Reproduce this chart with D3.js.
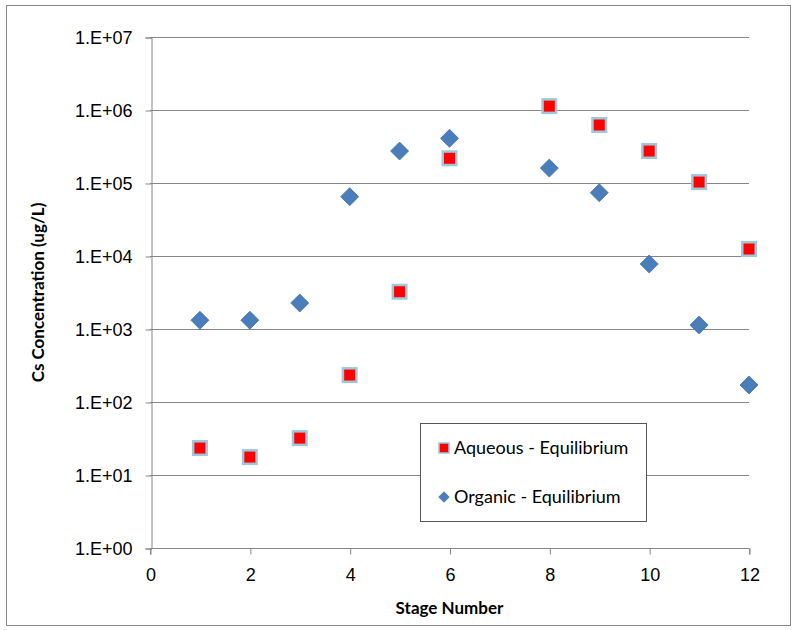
<!DOCTYPE html>
<html>
<head>
<meta charset="utf-8">
<script src="https://cdn.jsdelivr.net/npm/d3@7"></script>
<style>
  body { margin: 0; background: #fff; }
  svg { font-family: Lato, "Open Sans", sans-serif; }
</style>
</head>
<body>
<div id="chart"></div>
<script>
const stagesAqueous = [1, 2, 3, 4, 5, 6, 8, 9, 10, 11, 12];
const aqueous = [23.4, 17.6, 32, 234, 3240, 218000, 1130000, 623000, 274000, 103000, 12470];
const stagesOrganic = [1, 2, 3, 4, 5, 6, 8, 9, 10, 11, 12];
const organic = [1320, 1320, 2270, 64900, 274000, 409000, 160000, 73600, 7770, 1135, 171];
const xTicks = [0, 2, 4, 6, 8, 10, 12];
const yTicks = [1, 10, 100, 1e3, 1e4, 1e5, 1e6, 1e7];
const seriesNames = ["Aqueous - Equilibrium", "Organic - Equilibrium"];

const size = { width: 798, height: 630 };
const plot = { left: 150, right: 749, top: 37, bottom: 548 };

const svg = d3.select("#chart").append("svg")
  .attr("width", size.width)
  .attr("height", size.height);

// outer frame
svg.append("rect")
  .attr("x", 6.5).attr("y", 5.5)
  .attr("width", 784).attr("height", 620)
  .attr("fill", "#fff")
  .attr("stroke", "#868686");

const x = d3.scaleLinear().domain([0, 12]).range([plot.left, plot.right]);
const y = d3.scaleLog().domain([1, 1e7]).range([plot.bottom, plot.top]);

// horizontal gridlines
svg.append("g").selectAll("line")
  .data(yTicks.slice(1))
  .join("line")
  .attr("x1", plot.left).attr("x2", plot.right)
  .attr("y1", d => Math.round(y(d)) + 0.5)
  .attr("y2", d => Math.round(y(d)) + 0.5)
  .attr("stroke", "#868686");

const fmt = d => "1.E+" + String(Math.round(Math.log10(d))).padStart(2, "0");

const yAxis = svg.append("g")
  .attr("transform", `translate(${plot.left + 1.5},0.5)`)
  .call(d3.axisLeft(y).tickValues(yTicks).tickFormat(fmt).tickSize(6).tickPadding(13));

const xAxis = svg.append("g")
  .attr("transform", `translate(0.5,${plot.bottom + 0.5})`)
  .call(d3.axisBottom(x).tickValues(xTicks).tickFormat(d3.format("d")).tickSize(6).tickPadding(14));

[yAxis, xAxis].forEach(a => {
  a.selectAll("path, line").attr("stroke", "#868686");
  a.selectAll("text").attr("fill", "#000").style("font-size", "18px");
});
xAxis.select("path").attr("d", `M${plot.left},6V0H${plot.right}V6`);

svg.append("text")
  .attr("x", (plot.left + plot.right) / 2)
  .attr("y", 614)
  .attr("text-anchor", "middle")
  .style("font-size", "17px").style("font-weight", "bold")
  .text("Stage Number");

svg.append("text")
  .attr("transform", `translate(44,${(plot.top + plot.bottom) / 2}) rotate(-90)`)
  .attr("text-anchor", "middle")
  .style("font-size", "17px").style("font-weight", "bold")
  .text("Cs Concentration (ug/L)");

const square = (g, s) => g.append("rect")
  .attr("x", -s / 2).attr("y", -s / 2).attr("width", s).attr("height", s)
  .attr("fill", "#ff0000").attr("stroke", "#9cc8dc").attr("stroke-width", 2.5);
const diamond = (g, s) => g.append("path")
  .attr("d", `M0,${-s / 2}L${s / 2},0L0,${s / 2}L${-s / 2},0Z`)
  .attr("fill", "#4a7ebb").attr("stroke", "#4071ad").attr("stroke-width", 0.8);

svg.append("g").selectAll("g")
  .data(d3.zip(stagesOrganic, organic))
  .join("g")
  .attr("transform", ([s, v]) => `translate(${x(s)},${y(v)})`)
  .each(function () { diamond(d3.select(this), 18); });

svg.append("g").selectAll("g")
  .data(d3.zip(stagesAqueous, aqueous))
  .join("g")
  .attr("transform", ([s, v]) => `translate(${x(s)},${y(v)})`)
  .each(function () { square(d3.select(this), 13.5); });

// legend
const legend = svg.append("g");
legend.append("rect")
  .attr("x", 420.5).attr("y", 423.5).attr("width", 226).attr("height", 98)
  .attr("fill", "#fff").attr("stroke", "#555");
const items = legend.selectAll("g.item")
  .data(seriesNames)
  .join("g")
  .attr("class", "item")
  .attr("transform", (d, i) => `translate(444,${448 + i * 49})`);
items.each(function (d, i) {
  const g = d3.select(this);
  if (i === 0) square(g, 10).attr("stroke-width", 1.5);
  else diamond(g, 10.5);
});
items.append("text")
  .attr("x", 10).attr("dy", "0.35em")
  .style("font-size", "18px")
  .text(d => d);
</script>
</body>
</html>
